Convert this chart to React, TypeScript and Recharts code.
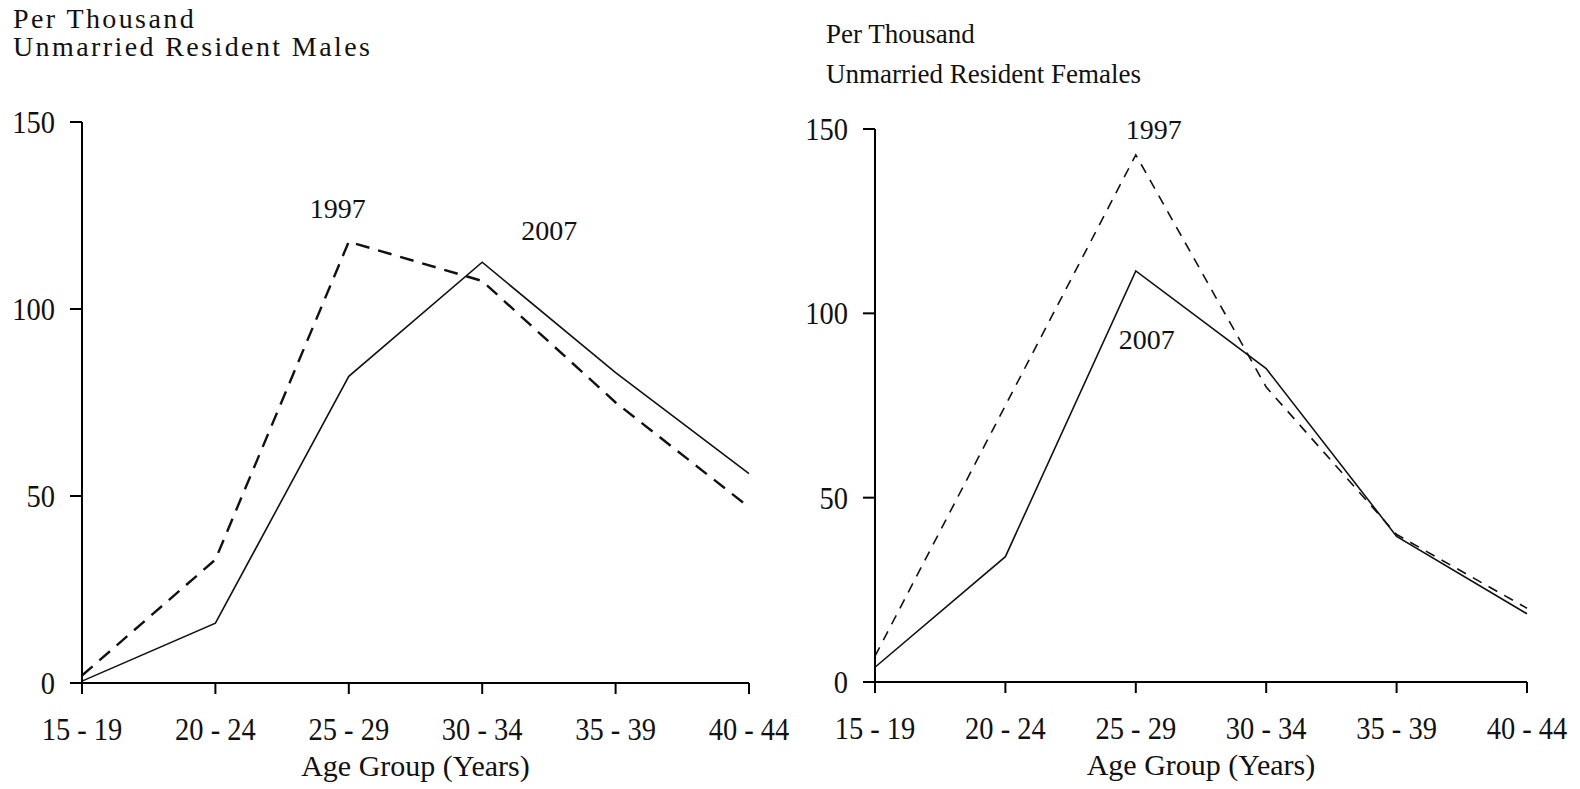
import React from 'react';
import { LineChart, Line, XAxis, YAxis, ReferenceDot } from 'recharts';

const ageGroups = ['15 - 19', '20 - 24', '25 - 29', '30 - 34', '35 - 39', '40 - 44'];
const males1997 = [2, 33, 118, 107.5, 75, 47];
const males2007 = [0.5, 16, 82, 112.5, 83, 56];
const females1997 = [7, 75, 143, 80, 40, 20];
const females2007 = [4, 34, 111.5, 85, 39.5, 18.5];
const yTicks = [0, 50, 100, 150];

const maleNotes = [
  { text: '1997', x: '25 - 29', y: 127, dx: -11 },
  { text: '2007', x: '30 - 34', y: 121, dx: 67 },
];
const femaleNotes = [
  { text: '1997', x: '25 - 29', y: 150, dx: 18 },
  { text: '2007', x: '25 - 29', y: 93, dx: 11 },
];

const FONT = '"Liberation Serif", "Times New Roman", serif';
const INK = '#111';

const maleData = ageGroups.map((age, i) => ({ age, y1997: males1997[i], y2007: males2007[i] }));
const femaleData = ageGroups.map((age, i) => ({ age, y1997: females1997[i], y2007: females2007[i] }));

const axisStyle = { stroke: '#000', strokeWidth: 2 };

function XTick(p: any) {
  return (
    <g transform={`translate(${p.x},${p.y})`}>
      <text transform="scale(1,1.1)" textAnchor="middle" dy="0.71em" fill={INK} fontSize={28.5} fontFamily={FONT}>
        {p.payload.value}
      </text>
    </g>
  );
}

function YTick(p: any) {
  return (
    <g transform={`translate(${p.x},${p.y})`}>
      <text transform="scale(1,1.1)" textAnchor="end" dy="0.35em" fill={INK} fontSize={28.5} fontFamily={FONT}>
        {p.payload.value}
      </text>
    </g>
  );
}

type Note = { text: string; x: string; y: number; dx: number };

function Panel(props: {
  left: number;
  width: number;
  margin: { top: number; right: number; bottom: number; left: number };
  data: any[];
  dash: string;
  dashWidth: number;
  notes: Note[];
}) {
  const { left, width, margin, data, dash, dashWidth, notes } = props;
  return (
    <div style={{ position: 'absolute', left, top: 0 }}>
      <LineChart width={width} height={789} data={data} margin={margin}>
        <XAxis
          dataKey="age"
          interval={0}
          height={95}
          tickSize={11}
          tickMargin={24}
          axisLine={axisStyle}
          tickLine={axisStyle}
          tick={<XTick />}
          label={{ value: 'Age Group (Years)', position: 'insideBottom', offset: 2, fill: INK, fontSize: 30, fontFamily: FONT }}
        />
        <YAxis
          domain={[0, 150]}
          ticks={yTicks}
          width={1}
          tickSize={12}
          tickMargin={15}
          axisLine={axisStyle}
          tickLine={axisStyle}
          tick={<YTick />}
        />
        <Line
          type="linear"
          dataKey="y1997"
          stroke={INK}
          strokeWidth={dashWidth}
          strokeDasharray={dash}
          dot={false}
          activeDot={false}
          isAnimationActive={false}
        />
        <Line
          type="linear"
          dataKey="y2007"
          stroke={INK}
          strokeWidth={1.6}
          dot={false}
          activeDot={false}
          isAnimationActive={false}
        />
        {notes.map((n) => (
          <ReferenceDot
            key={n.text}
            x={n.x}
            y={n.y}
            r={0}
            ifOverflow="visible"
            shape={(p: any) => (
              <text
                x={p.cx + n.dx}
                y={p.cy}
                dy="0.35em"
                textAnchor="middle"
                fill={INK}
                fontSize={28}
                fontFamily={FONT}
              >
                {n.text}
              </text>
            )}
          />
        ))}
      </LineChart>
    </div>
  );
}

const titleStyle: React.CSSProperties = {
  position: 'absolute',
  fontFamily: FONT,
  lineHeight: '28px',
  color: INK,
  whiteSpace: 'nowrap',
};

export default function App() {
  return (
    <div style={{ position: 'absolute', left: 0, top: 0, width: 1580, height: 789, background: '#fff', overflow: 'hidden' }}>
      <div style={{ ...titleStyle, fontSize: 28, letterSpacing: 2.4, left: 13, top: 5 }}>Per Thousand</div>
      <div style={{ ...titleStyle, fontSize: 28, letterSpacing: 2.4, left: 13, top: 33 }}>Unmarried Resident Males</div>
      <div style={{ ...titleStyle, fontSize: 27, left: 826, top: 20 }}>Per Thousand</div>
      <div style={{ ...titleStyle, fontSize: 27, left: 826, top: 60 }}>Unmarried Resident Females</div>
      <Panel
        left={0}
        width={790}
        margin={{ top: 122, right: 41, bottom: 11, left: 81 }}
        data={maleData}
        dash="14 9"
        dashWidth={2.4}
        notes={maleNotes}
      />
      <Panel
        left={790}
        width={790}
        margin={{ top: 129, right: 53, bottom: 12, left: 84 }}
        data={femaleData}
        dash="10 8"
        dashWidth={1.6}
        notes={femaleNotes}
      />
    </div>
  );
}
